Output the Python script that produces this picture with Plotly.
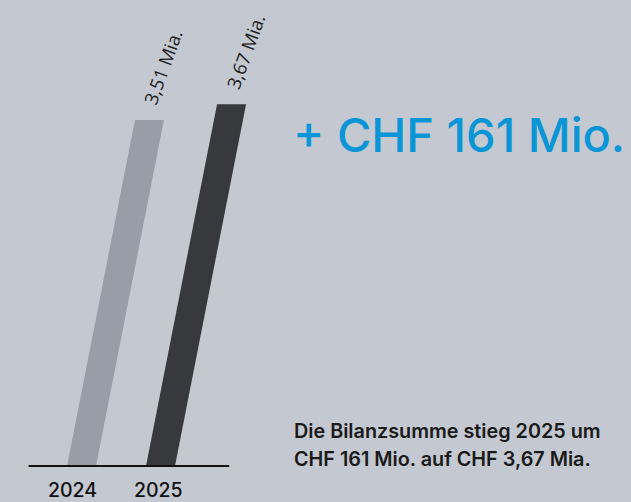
import plotly.graph_objects as go

years = ["2024", "2025"]
values = [3.51, 3.67]
value_labels = ["3,51 Mia.", "3,67 Mia."]
bar_colors = ["#989ea7", "#38393d"]
headline = "+ CHF 161 Mio."
caption_lines = ["Die Bilanzsumme stieg 2025 um", "CHF 161 Mio. auf CHF 3,67 Mia."]

BG = "#c4c8d1"
W, H = 631, 502
bar_w = 0.367
slant = 0.245  # x-units per value unit

fig = go.Figure()
for i, (v, c) in enumerate(zip(values, bar_colors)):
    x0, x1 = i - bar_w / 2, i + bar_w / 2
    s = slant * v
    fig.add_trace(go.Scatter(
        x=[x0, x1, x1 + s, x0 + s, x0],
        y=[0, 0, v, v, 0],
        mode="lines", fill="toself", fillcolor=c,
        line=dict(width=0, color=c), hoverinfo="skip", showlegend=False,
    ))
    fig.add_annotation(
        x=i + s, y=v, text=value_labels[i], showarrow=False,
        xanchor="center", yanchor="middle", xshift=13.5, yshift=53,
        textangle=-70, font=dict(family="Open Sans", size=18.5, color="#1e1e1e"),
    )
    fig.add_annotation(
        x=i, y=0, text=years[i], showarrow=False,
        xanchor="center", yanchor="middle", xshift=(-9 if i == 0 else -2), yshift=-23.5,
        font=dict(family="Inter", size=19.5, color="#111111", weight=500),
    )

# baseline
fig.add_shape(type="line", xref="x", yref="y", x0=-0.67, x1=1.87, y0=0, y1=0,
              line=dict(color="#111111", width=2))

fig.add_annotation(
    xref="paper", yref="paper", x=459.5 / W, y=1 - 134 / H, text=headline,
    showarrow=False, xanchor="center", yanchor="middle",
    font=dict(family="Inter", size=47, color="#0a96d6", weight=500),
)
for k, line in enumerate(caption_lines):
    fig.add_annotation(
        xref="paper", yref="paper", x=292 / W, y=1 - (431 + 27.5 * k) / H, text=line,
        showarrow=False, xanchor="left", yanchor="middle",
        font=dict(family="Inter", size=19.8, color="#1a1a1a", weight=600),
    )

fig.update_layout(
    width=W, height=H, margin=dict(l=0, r=0, t=0, b=0),
    paper_bgcolor=BG, plot_bgcolor=BG,
    xaxis=dict(range=[-1.032, 6.956], visible=False, fixedrange=True),
    yaxis=dict(range=[-0.365, 4.726], visible=False, fixedrange=True),
)
fig.write_html("out.html", config={"displayModeBar": False},
               post_script="document.body.style.margin='0';document.body.style.overflow='hidden';")
